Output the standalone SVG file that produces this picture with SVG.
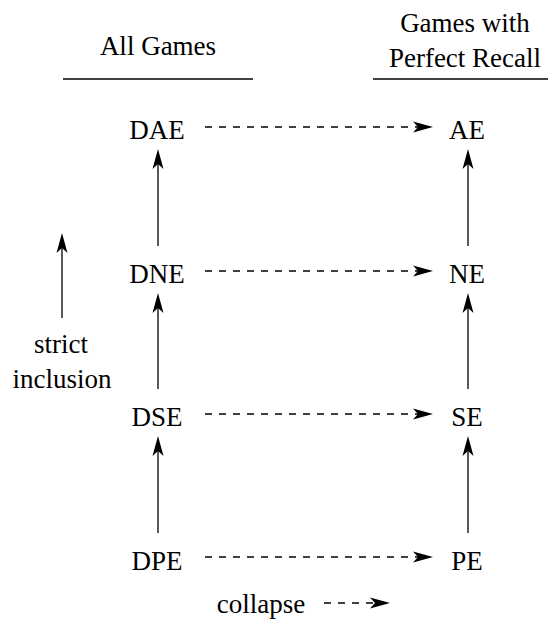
<svg xmlns="http://www.w3.org/2000/svg" width="556" height="620" viewBox="0 0 556 620">
<style>
.t{font-size:27px;fill:#000;text-anchor:middle}
.inc{stroke:#000;stroke-width:1.3;fill:none}
.col{stroke:#000;stroke-width:1.3;fill:none;stroke-dasharray:7 7}
.rule{stroke:#000;stroke-width:1.3}
</style>
<defs>
<marker id="ah" viewBox="-21 -7 22 14" markerWidth="22" markerHeight="14" refX="-4" refY="0" orient="auto" markerUnits="userSpaceOnUse">
<path d="M0,0 L-20,-5.5 L-15,0 L-20,5.5 Z" fill="#000"/>
</marker>
</defs>
<g id="headers" class="t" style="font-family:'Times New Roman','Liberation Serif',serif">
<text x="158" y="55">All Games</text>
<line class="rule" x1="63" y1="79" x2="253" y2="79"/>
<text x="465" y="32">Games with</text>
<text x="465" y="67">Perfect Recall</text>
<line class="rule" x1="373" y1="79" x2="548" y2="79"/>
</g>
<g id="DAE" class="t" style="font-family:'Times New Roman','Liberation Serif',serif"><text x="157" y="139">DAE</text></g>
<g id="DNE" class="t" style="font-family:'Times New Roman','Liberation Serif',serif"><text x="157" y="283">DNE</text></g>
<g id="DSE" class="t" style="font-family:'Times New Roman','Liberation Serif',serif"><text x="157" y="426">DSE</text></g>
<g id="DPE" class="t" style="font-family:'Times New Roman','Liberation Serif',serif"><text x="157" y="570">DPE</text></g>
<g id="AE" class="t" style="font-family:'Times New Roman','Liberation Serif',serif"><text x="467" y="139">AE</text></g>
<g id="NE" class="t" style="font-family:'Times New Roman','Liberation Serif',serif"><text x="467" y="283">NE</text></g>
<g id="SE" class="t" style="font-family:'Times New Roman','Liberation Serif',serif"><text x="467" y="426">SE</text></g>
<g id="PE" class="t" style="font-family:'Times New Roman','Liberation Serif',serif"><text x="467" y="570">PE</text></g>
<g id="legend" class="t" style="font-family:'Times New Roman','Liberation Serif',serif">
<text x="61" y="353">strict</text>
<text x="62" y="388">inclusion</text>
<text x="261" y="613">collapse</text>
</g>
<g id="connectors">
<line class="inc" x1="158" y1="246" x2="158" y2="153" marker-end="url(#ah)"/>
<line class="inc" x1="158" y1="389" x2="158" y2="297" marker-end="url(#ah)"/>
<line class="inc" x1="158" y1="533" x2="158" y2="440" marker-end="url(#ah)"/>
<line class="inc" x1="468" y1="246" x2="468" y2="153" marker-end="url(#ah)"/>
<line class="inc" x1="468" y1="389" x2="468" y2="297" marker-end="url(#ah)"/>
<line class="inc" x1="468" y1="533" x2="468" y2="440" marker-end="url(#ah)"/>
<line class="col" x1="205" y1="127" x2="429" y2="127" marker-end="url(#ah)"/>
<line class="col" x1="205" y1="271" x2="429" y2="271" marker-end="url(#ah)"/>
<line class="col" x1="205" y1="414" x2="429" y2="414" marker-end="url(#ah)"/>
<line class="col" x1="205" y1="557" x2="429" y2="557" marker-end="url(#ah)"/>
<line class="inc" x1="62" y1="318" x2="62" y2="237" marker-end="url(#ah)"/>
<line class="col" x1="324" y1="603" x2="386" y2="603" marker-end="url(#ah)"/>
</g>
</svg>
